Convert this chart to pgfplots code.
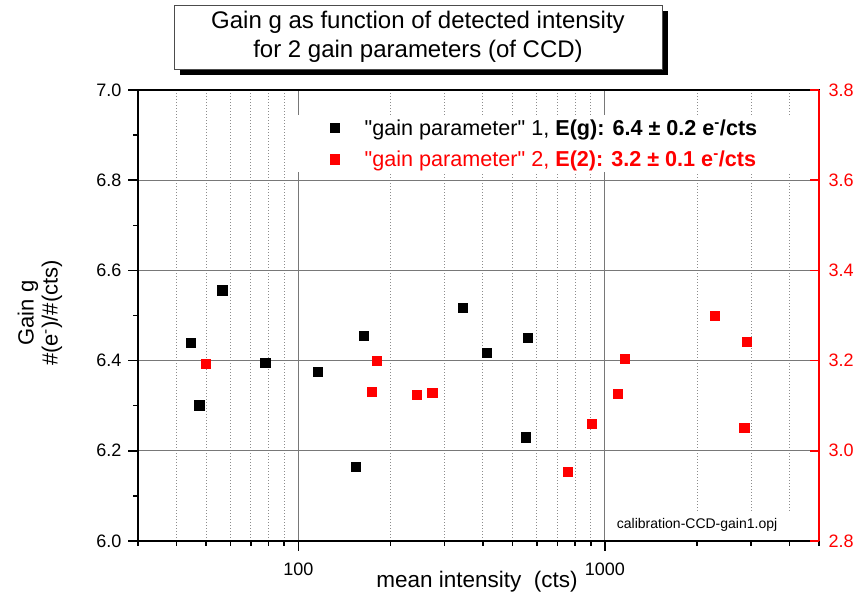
\documentclass[border=0pt]{standalone}
\usepackage{pgfplots}
\pgfplotsset{compat=1.18}
\usepackage{fontspec}
\setmainfont{Liberation Sans}
\newfontfamily\qfont{Liberation Sans}
\newcommand\dq{{\qfont"}}
\usetikzlibrary{shadows}
\definecolor{gridgray}{RGB}{120,120,120}
\definecolor{dotgray}{RGB}{140,140,140}
\definecolor{pured}{RGB}{255,0,0}
\begin{document}
\begin{tikzpicture}[x=1pt,y=1pt]
\useasboundingbox (0,0) rectangle (855,602);
\pgfplotsset{
  every axis/.append style={
    scale only axis, width=681pt, height=451pt,
    at={(138pt,61pt)}, anchor=south west,
    xmode=log, xmin=30, xmax=5000,
  }
}
\begin{axis}[
  ymin=6, ymax=7,
  xtick={100,1000}, xticklabels={100,1000},
  minor xtick={30,40,50,60,70,80,90,200,300,400,500,600,700,800,900,2000,3000,4000,5000},
  ytick={6,6.2,6.4,6.6,6.8,7}, yticklabels={6.0,6.2,6.4,6.6,6.8,7.0},
  minor ytick={6.1,6.3,6.5,6.7,6.9},
  xtick pos=left, ytick pos=left, tick align=outside,
  major tick length=10pt, minor tick length=5pt,
  every tick/.style={black, line width=1.5pt},
  axis line style={black, line width=2pt},
  xmajorgrids, ymajorgrids, xminorgrids,
  major grid style={gridgray, line width=0.9pt},
  minor grid style={dotgray, line width=0.9pt, dash pattern=on 1pt off 2pt},
  tick label style={font=\fontsize{18}{21}\selectfont},
  xticklabel style={yshift=-8pt},
  yticklabel style={xshift=-3pt},
  clip=false,
]
\addplot[only marks, mark=square*, mark size=4.6pt, mark options={fill=black, draw=black}] coordinates {
(44.5,6.439) (47.5,6.301) (56.5,6.556) (78.0,6.396) (115.7,6.376) (153.9,6.165)
(163,6.456) (343.6,6.518) (412,6.418) (551,6.230) (562,6.451)
};
\fill[white] (rel axis cs:0.693,0.006) rectangle (rel axis cs:0.993,0.064);
\node[font=\fontsize{14}{16}\selectfont] at (rel axis cs:0.821,0.0355) {calibration-CCD-gain1.opj};
\end{axis}
\begin{axis}[
  ymin=2.8, ymax=3.8,
  axis x line=none, axis y line*=right,
  ytick={2.8,3.0,3.2,3.4,3.6,3.8}, yticklabels={2.8,3.0,3.2,3.4,3.6,3.8},
  tick align=inside, major tick length=9pt,
  ytick style={pured, line width=1.5pt},
  y axis line style={pured, line width=2pt},
  yticklabel style={pured, font=\fontsize{18}{21}\selectfont, xshift=6pt},
  legend cell align=left,
  legend style={at={(0.2263,0.944)}, anchor=north west, draw=none, fill=white,
    inner sep=2pt, row sep=10pt, font=\fontsize{21.6}{25}\selectfont},
  legend image code/.code={\draw[#1] plot coordinates {(0pt,0pt)}; \path (-40pt,0pt) (28pt,0pt);},
  clip=false,
]
\addlegendimage{only marks, mark=square*, mark size=4.6pt, mark options={fill=black, draw=black}}
\addlegendentry{\makebox[425pt][l]{\dq gain parameter\dq\ 1, \textbf{E(g): 6.4 ± 0.2 e\textsuperscript{-}/cts}}}
\addplot[only marks, mark=square*, mark size=4.6pt, mark options={fill=pured, draw=pured}] coordinates {
(50.0,3.193) (173.4,3.131) (180.7,3.199) (243,3.124) (273.6,3.128) (755,2.954)
(904,3.060) (1102,3.127) (1162,3.204) (2286,3.299) (2850,3.052) (2898,3.242)
};
\addlegendentry{\textcolor{pured}{\dq gain parameter\dq\ 2, \textbf{E(2): 3.2 ± 0.1 e\textsuperscript{-}/cts}}}
\end{axis}
\node[draw=black!70, line width=0.8pt, fill=white, minimum width=488pt, minimum height=64pt,
  align=center, font=\fontsize{24}{29}\selectfont,
  drop shadow={shadow xshift=6pt, shadow yshift=-6pt, fill=black, opacity=1}]
  at (418,565) {Gain g as function of detected intensity\\for 2 gain parameters (of CCD)};
\node[rotate=90, align=center, font=\fontsize{22}{24}\selectfont] at (40,289)
  {Gain g\\\#(e\textsuperscript{-})/\#(cts)};
\node[font=\fontsize{22.5}{26}\selectfont] at (477,20) {mean intensity\ \ (cts)};
\end{tikzpicture}
\end{document}
